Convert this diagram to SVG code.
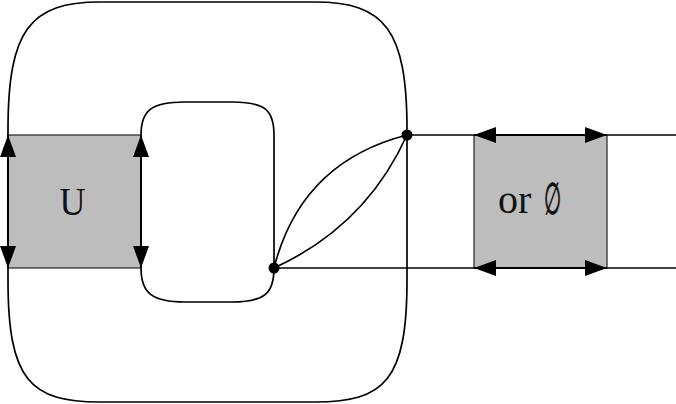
<svg xmlns="http://www.w3.org/2000/svg" width="676" height="404" viewBox="0 0 676 404">
  <style>
    .wire { fill: none; stroke: #000; stroke-width: 1.7; }
    .box { fill: #bdbdbd; stroke: #222; stroke-width: 1.2; }
    .edge { fill: none; stroke: #000; stroke-width: 2; }
    .head { fill: #000; stroke: none; }
    .dot { fill: #000; }
    .label { font-family: "Liberation Serif", "DejaVu Serif", serif; font-size: 40px; fill: #111; }
  </style>
  <defs>
    <!-- arrowhead pointing up, tip at origin -->
    <path id="headUp" class="head" d="M0,0 L8,22 L-8,22 Z"/>
  </defs>

  <!-- large outer loop -->
  <g id="outer-loop">
    <path class="wire" d="M8,130 C8,30 30,2 100,2 L315,2 C385,2 407,30 407,130 L407,280 C407,380 385,402 315,402 L100,402 C30,402 8,380 8,280 Z"/>
  </g>

  <!-- inner loop -->
  <g id="inner-loop">
    <path class="wire" d="M141,268 L141,135 C141,110 152,102 185,102 L232,102 C265,102 274,110 274,135 L274,268 C274,293 265,302 232,302 L185,302 C152,302 141,293 141,268 Z"/>
  </g>

  <!-- box U -->
  <g id="box-u">
    <rect class="box" x="8" y="135" width="133" height="133"/>
    <line class="edge" x1="8" y1="135" x2="8" y2="268"/>
    <line class="edge" x1="141" y1="135" x2="141" y2="268"/>
    <use href="#headUp" transform="translate(8,135)"/>
    <use href="#headUp" transform="translate(8,268) rotate(180)"/>
    <use href="#headUp" transform="translate(141,135)"/>
    <use href="#headUp" transform="translate(141,268) rotate(180)"/>
    <text class="label" x="59.5" y="215" font-size="45" textLength="26" lengthAdjust="spacingAndGlyphs">U</text>
  </g>

  <!-- connectors -->
  <g id="connectors">
    <path class="wire" d="M274,268 Q301,162 407,135"/>
    <path class="wire" d="M274,268 Q366,226 407,135"/>
    <line class="wire" x1="407" y1="135" x2="676" y2="135"/>
    <line class="wire" x1="274" y1="268" x2="676" y2="268"/>
  </g>

  <!-- box "or ∅" -->
  <g id="box-or">
    <rect class="box" x="474" y="135" width="133" height="133"/>
    <line class="edge" x1="474" y1="135" x2="607" y2="135"/>
    <line class="edge" x1="474" y1="268" x2="607" y2="268"/>
    <use href="#headUp" transform="translate(474,135) rotate(-90)"/>
    <use href="#headUp" transform="translate(607,135) rotate(90)"/>
    <use href="#headUp" transform="translate(474,268) rotate(-90)"/>
    <use href="#headUp" transform="translate(607,268) rotate(90)"/>
    <text class="label" x="498" y="213" font-size="41">or <tspan x="544" y="214" font-size="44" stroke="#111" stroke-width="0.9" textLength="17" lengthAdjust="spacingAndGlyphs">∅</tspan></text>
  </g>

  <!-- vertices -->
  <g id="vertex-top">
    <circle class="dot" cx="407" cy="135" r="5.5"/>
  </g>
  <g id="vertex-bottom">
    <circle class="dot" cx="274" cy="268" r="5.5"/>
  </g>
</svg>
